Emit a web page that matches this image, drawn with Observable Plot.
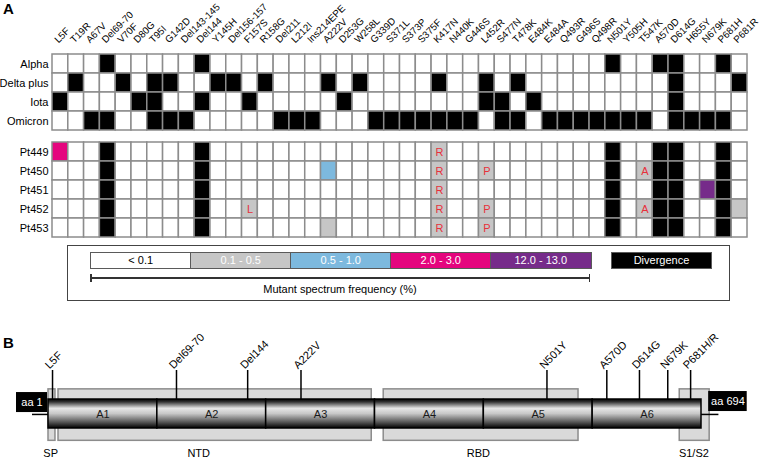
<!DOCTYPE html>
<html><head><meta charset="utf-8">
<script src="https://cdn.jsdelivr.net/npm/d3@7"></script>
<script src="https://cdn.jsdelivr.net/npm/@observablehq/plot@0.6"></script>
<style>
body{margin:0;background:#fff;font-family:"Liberation Sans",Arial,sans-serif;}
#root{position:relative;width:768px;height:461px;overflow:hidden;background:#fff;}
#root > svg, #root > div{position:absolute;}
.panel{font-weight:bold;font-size:15px;color:#000;}
</style></head><body><div id="root"></div>
<script>
// ---------- DATA ----------
const mutations = ["L5F","T19R","A67V","Del69-70","V70F","D80G","T95I","G142D","Del143-145","Del144","Y145H","Del156-157","F157S","R158G","Del211","L212I","Ins214EPE","A222V","D253G","W258L","G339D","S371L","S373P","S375F","K417N","N440K","G446S","L452R","S477N","T478K","E484K","E484A","Q493R","G496S","Q498R","N501Y","Y505H","T547K","A570D","D614G","H655Y","N679K","P681H","P681R"];
const variants = ["Alpha","Delta plus","Iota","Omicron"];
const alphaMuts = ["Del69-70","Del144","N501Y","A570D","D614G","P681H"];
const deltaPlusMuts = ["T19R","V70F","T95I","G142D","Y145H","Del156-157","R158G","A222V","W258L","K417N","L452R","T478K","D614G","P681R"];
const iotaMuts = ["L5F","D80G","T95I","Del144","F157S","D253G","L452R","S477N","E484K","D614G"];
const omicronMuts = ["A67V","Del69-70","T95I","G142D","Del143-145","Del211","L212I","Ins214EPE","G339D","S371L","S373P","S375F","K417N","N440K","G446S","S477N","T478K","E484A","Q493R","G496S","Q498R","N501Y","Y505H","T547K","D614G","H655Y","N679K","P681H"];

const patients = ["Pt449","Pt450","Pt451","Pt452","Pt453"];
const divergenceMuts = ["Del69-70","Del144","N501Y","A570D","D614G","P681H"];
const minorPatient  = ["Pt449","Pt449","Pt450","Pt450","Pt450","Pt450","Pt451","Pt451","Pt452","Pt452","Pt452","Pt452","Pt452","Pt453","Pt453","Pt453"];
const minorMutation = ["L5F","K417N","A222V","K417N","L452R","T547K","K417N","N679K","F157S","K417N","L452R","T547K","P681R","A222V","K417N","L452R"];
const minorBin      = ["2.0 - 3.0","0.1 - 0.5","0.5 - 1.0","0.1 - 0.5","0.1 - 0.5","0.1 - 0.5","0.1 - 0.5","12.0 - 13.0","0.1 - 0.5","0.1 - 0.5","0.1 - 0.5","0.1 - 0.5","0.1 - 0.5","0.1 - 0.5","0.1 - 0.5","0.1 - 0.5"];
const minorAA       = ["","R","","R","P","A","R","","L","R","P","A","","","R","P"];

const bins = ["< 0.1","0.1 - 0.5","0.5 - 1.0","2.0 - 3.0","12.0 - 13.0"];
const divergenceLabel = "Divergence";
const legendTitle = "Mutant spectrum frequency (%)";

// Panel B (schematic positions in amplicon units, 1 unit = 1 amplicon)
const amplicons = ["A1","A2","A3","A4","A5","A6"];
const ampliconStart = [0,1,2,3,4,5];
const ampliconEnd = [1,2,3,4,5,6];
const domains = ["SP","NTD","RBD","S1/S2"];
const domainStart = [0,0.092,3.08,5.80];
const domainEnd = [0.064,2.97,4.87,6.075];
const domainLabelPos = [0.02,1.38,3.95,5.93];
const bMutations = ["L5F","Del69-70","Del144","A222V","N501Y","A570D","D614G","N679K","P681H/R"];
const bMutationPos = [0.037,1.176,1.83,2.32,4.58,5.13,5.43,5.69,5.90];
const endLabels = ["aa 1","aa 694"];

// ---------- STYLE ----------
const FONT = '"Liberation Sans", Arial, sans-serif';
const binColors = ["#ffffff","#c6c6c6","#7db9de","#e5057e","#762b8a"];
const binTextColors = ["#000","#fff","#fff","#fff","#fff"];
const divergenceColor = "#000000";
const gridStroke = "#8c8c8c";
const letterColor = "#e8303a";
const colorScale = {type:"ordinal", domain:[...bins, divergenceLabel], range:[...binColors, divergenceColor]};
const root = document.getElementById("root");
const baseStyle = {fontFamily:FONT, fontSize:"11px", color:"#000", background:"transparent", overflow:"visible"};

function place(el, top, left=0){ el.style.top = top+"px"; el.style.left = left+"px"; root.appendChild(el); return el; }

// ---------- PANEL A: variants ----------
const variantMutLists = [alphaMuts, deltaPlusMuts, iotaMuts, omicronMuts];
const variantRows = variants.flatMap((v,i) => mutations.map(m => ({row:v, mut:m, status: variantMutLists[i].includes(m) ? divergenceLabel : bins[0]})));

const p1 = Plot.plot({
  width:768, height:131, marginTop:53, marginBottom:0, marginLeft:52, marginRight:21,
  style: baseStyle,
  x:{type:"band", domain:mutations, padding:0, axis:null},
  y:{type:"band", domain:variants, padding:0, label:null, tickSize:0, tickPadding:4},
  color: colorScale,
  marks:[
    Plot.cell(variantRows, {x:"mut", y:"row", fill:"status", stroke:gridStroke, strokeWidth:1.5, inset:0}),
    Plot.text(mutations, {x:d=>d, frameAnchor:"top", rotate:-45, textAnchor:"start", lineAnchor:"bottom", dx:-2, dy:-10, fontSize:9.8, fill:"#000"})
  ]
});
place(p1, 0);

// ---------- PANEL A: patients ----------
const patientRows = patients.flatMap(p => mutations.map(m => {
  let status = divergenceMuts.includes(m) ? divergenceLabel : bins[0];
  let aa = "";
  minorPatient.forEach((mp,k) => { if (mp===p && minorMutation[k]===m){ status = minorBin[k]; aa = minorAA[k]; } });
  return {row:p, mut:m, status, aa};
}));

const p2 = Plot.plot({
  width:768, height:97, marginTop:0, marginBottom:0, marginLeft:52, marginRight:21,
  style: baseStyle,
  x:{type:"band", domain:mutations, padding:0, axis:null},
  y:{type:"band", domain:patients, padding:0, label:null, tickSize:0, tickPadding:4},
  color: colorScale,
  marks:[
    Plot.cell(patientRows, {x:"mut", y:"row", fill:"status", stroke:gridStroke, strokeWidth:1.5, inset:0}),
    Plot.text(patientRows.filter(d=>d.aa), {x:"mut", y:"row", text:"aa", fill:letterColor, fontSize:11})
  ]
});
place(p2, 141);

// ---------- LEGEND (HTML) ----------
const lg = document.createElement("div");
lg.style.cssText = "left:67px;top:245px;width:663px;height:56px;box-sizing:border-box;border:1.5px solid #444;";
root.appendChild(lg);
const binW = 100;
bins.forEach((b,i) => {
  const d = document.createElement("div");
  d.textContent = b;
  d.style.cssText = `position:absolute;left:${90+i*binW}px;top:252px;width:${binW+1.5}px;height:17px;box-sizing:border-box;border:1.5px solid #5a5a5a;background:${binColors[i]};color:${binTextColors[i]};font:11px ${FONT};text-align:center;line-height:14px;`;
  root.appendChild(d);
});
const dv = document.createElement("div");
dv.textContent = divergenceLabel;
dv.style.cssText = `position:absolute;left:611px;top:252px;width:101px;height:17px;box-sizing:border-box;border:1.5px solid #5a5a5a;background:${divergenceColor};color:#fff;font:11px ${FONT};text-align:center;line-height:14px;`;
root.appendChild(dv);
const ax = document.createElement("div");
ax.style.cssText = "left:90px;top:277px;width:500px;height:1.5px;background:#333;";
root.appendChild(ax);
[90, 588.5].forEach(x => { const t=document.createElement("div"); t.style.cssText=`left:${x}px;top:274px;width:1.5px;height:8px;background:#333;`; root.appendChild(t); });
const lt = document.createElement("div");
lt.textContent = legendTitle;
lt.style.cssText = `left:190px;top:283px;width:300px;text-align:center;font:11px ${FONT};color:#000;`;
root.appendChild(lt);

// ---------- PANEL B ----------
const Y_BAR = 1, Y_DOM_TOP = 1.7, Y_DOM_BOT = -1.85, Y_STEM = 3.0, Y_DLAB = -2.72;
const domainRows = domains.map((d,i)=>({name:d, x1:domainStart[i], x2:domainEnd[i], lx:domainLabelPos[i]}));
const ampRows = amplicons.map((a,i)=>({name:a, x1:ampliconStart[i], x2:ampliconEnd[i]}));
const bMutRows = bMutations.map((m,i)=>({name:m, x:bMutationPos[i]}));
const endRows = [
  {name:endLabels[0], x1:-0.294, x2:-0.009, y1:0.1, y2:1.48, lx1:-0.147, lx2:0},
  {name:endLabels[1], x1:6.066, x2:6.42, y1:0.17, y2:1.55, lx1:6.0, lx2:6.16}
];

const pB = Plot.plot({
  width:768, height:131, marginTop:0, marginBottom:0, marginLeft:48, marginRight:67,
  style: baseStyle,
  x:{domain:[0,6], axis:null},
  y:{domain:[-3.276,5.759], axis:null},
  marks:[
    Plot.rect(domainRows, {x1:"x1", x2:"x2", y1:Y_DOM_BOT, y2:Y_DOM_TOP, fill:"#d9d9d9", stroke:"#8c8c8c", strokeWidth:1.5}),
    Plot.ruleX(bMutRows, {x:"x", y1:Y_BAR, y2:Y_STEM, stroke:"#000", strokeWidth:1.5}),
    Plot.ruleY(endRows, {x1:"lx1", x2:"lx2", y:-0.03, stroke:"#000", strokeWidth:1.5}),
    Plot.rect(ampRows, {x1:"x1", x2:"x2", y1:-Y_BAR, y2:Y_BAR, fill:"url(#cyl)", stroke:"#000", strokeWidth:1.5}),
    Plot.text(ampRows, {x:d=>(d.x1+d.x2)/2, y:0, text:"name", fill:"#1a1a1a", fontSize:11}),
    Plot.text(bMutRows, {x:"x", y:Y_STEM, text:"name", rotate:-45, textAnchor:"start", lineAnchor:"bottom", dx:-3, dy:-1, fontSize:11, fill:"#000"}),
    Plot.text(domainRows, {x:"lx", y:Y_DLAB, text:"name", fontSize:11, fill:"#000"}),
    Plot.rect(endRows, {x1:"x1", x2:"x2", y1:"y1", y2:"y2", fill:"#000"}),
    Plot.text(endRows, {x:d=>(d.x1+d.x2)/2, y:d=>(d.y1+d.y2)/2, text:"name", fill:"#fff", fontSize:11})
  ]
});
const defs = d3.select(pB).insert("defs", ":first-child");
const g = defs.append("linearGradient").attr("id","cyl").attr("x1",0).attr("y1",0).attr("x2",0).attr("y2",1);
[[0,"#000"],[0.1,"#333"],[0.32,"#e6e6e6"],[0.5,"#c8c8c8"],[0.8,"#555"],[1,"#000"]].forEach(([o,c])=>g.append("stop").attr("offset",o).attr("stop-color",c));
place(pB, 330);

// panel letters
const la = document.createElement("div"); la.className="panel"; la.textContent="A"; la.style.cssText+="left:3px;top:0px;"; root.appendChild(la);
const lb = document.createElement("div"); lb.className="panel"; lb.textContent="B"; lb.style.cssText+="left:3px;top:334px;"; root.appendChild(lb);
</script></body></html>
